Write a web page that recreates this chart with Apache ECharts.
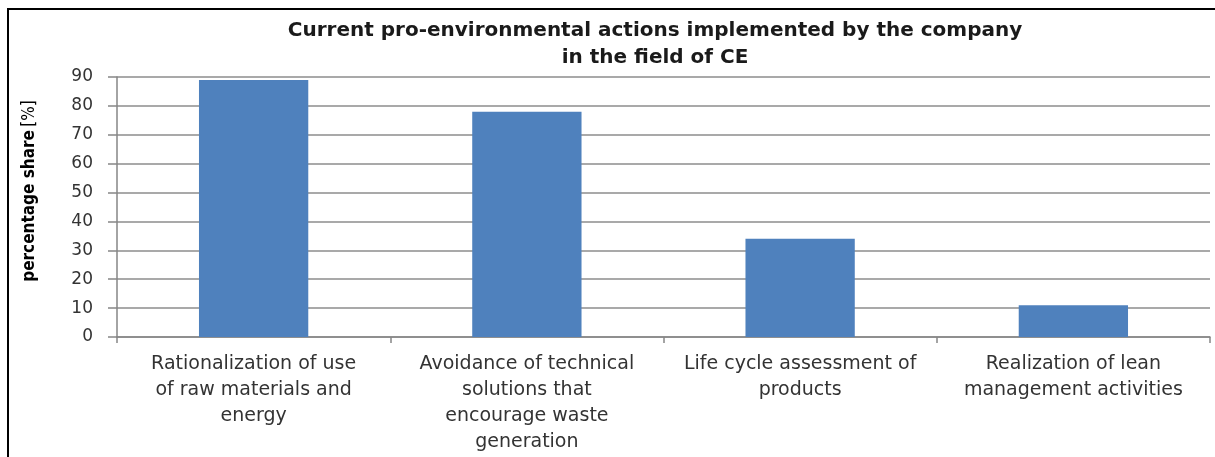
<!DOCTYPE html>
<html>
<head>
<meta charset="utf-8">
<script src="https://cdn.jsdelivr.net/npm/echarts@6/dist/echarts.min.js"></script>
<style>
  html, body { margin: 0; padding: 0; background: #fff; }
  #chart { width: 1215px; height: 457px; }
  #frame {
    position: absolute; left: 7px; top: 8px;
    width: 1300px; height: 600px;
    border: 2px solid #000; pointer-events: none;
  }
</style>
</head>
<body>
<div id="chart"></div>
<div id="frame"></div>
<script>
const titleLines = ['Current pro-environmental actions implemented by the company', 'in the field of CE']
const categories = [
  'Rationalization of use\nof raw materials and\nenergy',
  'Avoidance of technical\nsolutions that\nencourage waste\ngeneration',
  'Life cycle assessment of\nproducts',
  'Realization of lean\nmanagement activities'
]
const shares = [89, 78, 34, 11]
const yAxisName = 'percentage share'
const yAxisUnit = '[%]'

const chart = echarts.init(document.getElementById('chart'))
const option = {
  animation: false,
  title: {
    text: titleLines.join('\n'),
    left: 650,
    textAlign: 'center',
    top: 12,
    textStyle: {
      fontFamily: 'DejaVu Sans',
      fontSize: 20,
      fontWeight: 'bold',
      color: '#1a1a1a',
      lineHeight: 27
    }
  },
  grid: {
    left: 117,
    right: 5,
    top: 77,
    bottom: 120
  },
  xAxis: {
    type: 'category',
    data: categories,
    axisLine: { lineStyle: { color: '#868686', width: 1.5 } },
    axisTick: { show: true, length: 6, lineStyle: { color: '#868686', width: 1.5 } },
    axisLabel: {
      interval: 0,
      margin: 14,
      fontFamily: 'DejaVu Sans',
      fontSize: 19,
      lineHeight: 26,
      color: '#333'
    }
  },
  yAxis: {
    type: 'value',
    min: 0,
    max: 90,
    interval: 10,
    name: '{b|' + yAxisName + '} {n|' + yAxisUnit + '}',
    nameLocation: 'middle',
    nameGap: 79,
    nameTextStyle: {
      padding: [0, 0, 0, 32],
      rich: {
        b: {
          fontFamily: 'DejaVu Sans Condensed, Liberation Sans',
          fontSize: 17,
          fontWeight: 'bold',
          color: '#000'
        },
        n: {
          fontFamily: 'DejaVu Sans Condensed, Liberation Sans',
          fontSize: 17,
          color: '#000'
        }
      }
    },
    axisLine: { show: true, lineStyle: { color: '#868686', width: 1.5 } },
    axisTick: { show: true, length: 9, lineStyle: { color: '#868686', width: 1.5 } },
    splitLine: { lineStyle: { color: '#8c8c8c', width: 1.5 } },
    axisLabel: {
      margin: 24,
      fontFamily: 'DejaVu Sans',
      fontSize: 17,
      color: '#333'
    }
  },
  series: [{
    type: 'bar',
    data: shares,
    barWidth: '40%',
    itemStyle: { color: '#4f81bd' }
  }]
}
chart.setOption(option)
</script>
</body>
</html>
